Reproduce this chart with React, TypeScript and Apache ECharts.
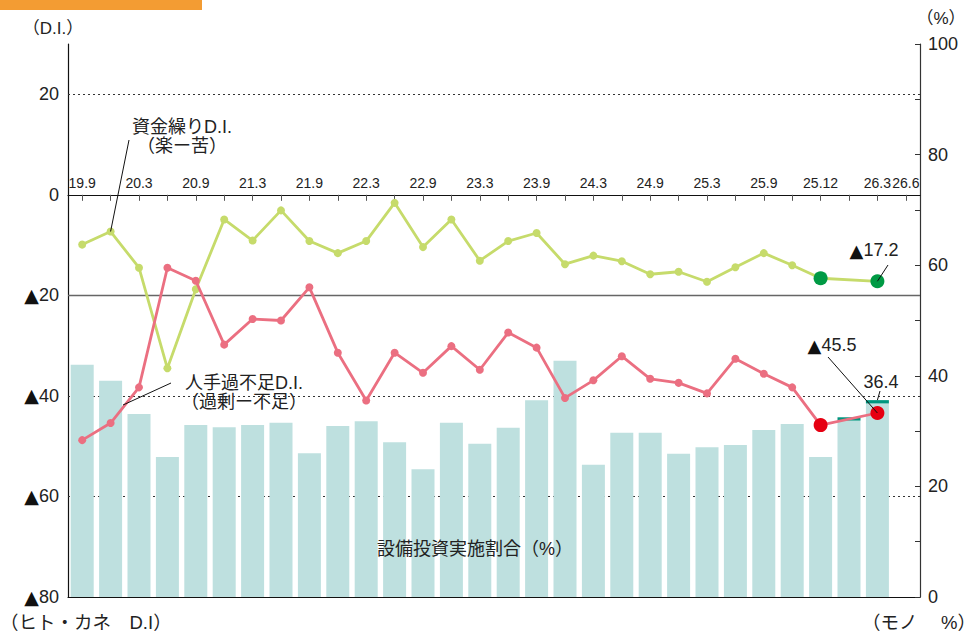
import React, { useEffect, useRef } from 'react';
import * as echarts from 'echarts';

// Category tick labels (one per survey point; blank = unlabeled)
const tickLabels = [
  '19.9', '', '20.3', '', '20.9', '', '21.3', '', '21.9', '',
  '22.3', '', '22.9', '', '23.3', '', '23.9', '', '24.3', '',
  '24.9', '', '25.3', '', '25.9', '', '25.12', '', '26.3', '26.6',
];

// 資金繰りD.I.（楽ー苦）
const fundingDI: (number | null)[] = [
  -9.9, -7.3, -14.5, -34.5, -18.8, -4.9, -9.1, -3.1, -9.2, -11.6,
  -9.2, -1.6, -10.4, -4.9, -13.1, -9.2, -7.6, -13.8, -12.1, -13.2,
  -15.8, -15.3, -17.3, -14.4, -11.6, -14.0, -16.6, null, -17.2, null,
];

// 人手過不足D.I.（過剰ー不足）
const laborDI: (number | null)[] = [
  -48.8, -45.4, -38.3, -14.5, -17.1, -29.8, -24.7, -25.0, -18.4, -31.4,
  -40.9, -31.4, -35.4, -30.1, -34.8, -27.4, -30.4, -40.4, -36.9, -32.1,
  -36.6, -37.4, -39.5, -32.6, -35.6, -38.3, -45.8, null, -43.4, null,
];

// 設備投資実施割合（%）
const capexBase: (number | null)[] = [
  42.0, 39.1, 33.1, 25.3, 31.1, 30.7, 31.1, 31.5, 26.0, 30.9,
  31.8, 28.0, 23.1, 31.5, 27.7, 30.6, 35.6, 42.7, 23.9, 29.7,
  29.7, 25.9, 27.1, 27.5, 30.2, 31.3, 25.3, 31.9, 35.0, null,
];
const capexCap: (number | null)[] = [
  null, null, null, null, null, null, null, null, null, null,
  null, null, null, null, null, null, null, null, null, null,
  null, null, null, null, null, null, null, 0.6, 0.6, null,
];

const highlightIdx = [26, 28];
const dottedGridValues = [20, -40, -60];
const solidGridValues = [-20];

const FONT = "'Liberation Sans', 'Noto Sans CJK JP', sans-serif";
const TRI = "'DejaVu Sans', sans-serif";
const TXT = '#222';

// grid geometry
const GL = 68;
const GR = 56;
const GT = 44;
const GB = 36;
const LEFT_MIN = -80;
const LEFT_MAX = 30;

export default function App() {
  const ref = useRef<HTMLDivElement>(null);

  useEffect(() => {
    const chart = echarts.init(ref.current!, null, { renderer: 'svg' });

    const withHighlight = (arr: (number | null)[], color: string) =>
      arr.map((v, i) =>
        v === null
          ? null
          : highlightIdx.includes(i)
          ? { value: v, symbolSize: 14, itemStyle: { color } }
          : v
      );

    const plotH = 633 - GT - GB;
    const zeroY = GT + (LEFT_MAX / (LEFT_MAX - LEFT_MIN)) * plotH;

    const option: any = {
      animation: false,
      grid: [
        { left: GL, right: GR, top: GT, bottom: GB },
        { left: GL, right: GR, top: zeroY, height: 20 },
      ],
      xAxis: [
        {
          type: 'category',
          gridIndex: 0,
          position: 'bottom',
          data: tickLabels,
          axisLine: { onZero: false, lineStyle: { color: '#111', width: 1.2 } },
          axisTick: { show: false },
          axisLabel: { show: false },
          splitLine: { show: false },
        },
        {
          type: 'category',
          gridIndex: 1,
          position: 'top',
          data: tickLabels,
          boundaryGap: true,
          axisLine: { onZero: false, lineStyle: { color: '#111', width: 1.2 } },
          axisTick: { show: true, inside: true, alignWithLabel: true, interval: 0, length: 6, lineStyle: { color: '#555' } },
          axisLabel: { interval: 0, margin: 5, fontSize: 14, color: TXT, fontFamily: FONT },
          splitLine: { show: false },
        },
      ],
      yAxis: [
        {
          type: 'value',
          gridIndex: 0,
          position: 'left',
          min: LEFT_MIN,
          max: LEFT_MAX,
          interval: 20,
          axisLine: { show: true, lineStyle: { color: '#111', width: 1.2 } },
          axisTick: { show: false },
          splitLine: { show: false },
          axisLabel: {
            formatter: (v: number) => (v === LEFT_MAX ? '' : v < 0 ? '{t|▲}' + -v : String(v)),
            fontSize: 18,
            color: TXT,
            margin: 9,
            fontFamily: FONT,
            rich: { t: { fontSize: 19, fontFamily: TRI, color: '#111', padding: [0, 0, 1, 0] } },
          },
        },
        {
          type: 'value',
          gridIndex: 0,
          position: 'right',
          min: 0,
          max: 100,
          interval: 10,
          axisLine: { show: true, lineStyle: { color: '#333', width: 1.2 } },
          axisTick: { show: true, inside: true, length: 5, lineStyle: { color: '#333' } },
          splitLine: { show: false },
          axisLabel: {
            formatter: (v: number) => (v % 20 === 0 ? String(v) : ''),
            fontSize: 18,
            color: TXT,
            margin: 8,
            fontFamily: FONT,
          },
        },
        {
          type: 'value',
          gridIndex: 1,
          show: false,
          min: 0,
          max: 1,
        },
      ],
      series: [
        {
          type: 'line',
          xAxisIndex: 0,
          yAxisIndex: 0,
          data: tickLabels.map(() => null),
          symbol: 'none',
          silent: true,
          markLine: {
            silent: true,
            symbol: 'none',
            z: 1,
            label: { show: false },
            data: [
              ...dottedGridValues.map((v) => ({
                yAxis: v,
                lineStyle: { type: [2, 3], color: '#333', width: 1 },
              })),
              ...solidGridValues.map((v) => ({
                yAxis: v,
                lineStyle: { type: 'solid', color: '#666', width: 1.3 },
              })),
            ],
          },
        },
        {
          type: 'bar',
          xAxisIndex: 0,
          yAxisIndex: 1,
          stack: 'capex',
          data: capexBase,
          barWidth: 23,
          itemStyle: { color: '#BEE0DF' },
          z: 2,
        },
        {
          type: 'bar',
          xAxisIndex: 0,
          yAxisIndex: 1,
          stack: 'capex',
          data: capexCap,
          barWidth: 23,
          itemStyle: { color: '#00967F' },
          z: 2,
        },
        {
          type: 'line',
          xAxisIndex: 0,
          yAxisIndex: 0,
          data: withHighlight(fundingDI, '#009A44'),
          connectNulls: true,
          symbol: 'circle',
          symbolSize: 8,
          showAllSymbol: true,
          lineStyle: { color: '#C6DB6B', width: 2.8 },
          itemStyle: { color: '#C6DB6B' },
          z: 4,
        },
        {
          type: 'line',
          xAxisIndex: 0,
          yAxisIndex: 0,
          data: withHighlight(laborDI, '#E60012'),
          connectNulls: true,
          symbol: 'circle',
          symbolSize: 8,
          showAllSymbol: true,
          lineStyle: { color: '#EB6F81', width: 2.8 },
          itemStyle: { color: '#EB6F81' },
          z: 5,
        },
      ],
    };

    chart.setOption(option);

    const pGreen1 = chart.convertToPixel({ seriesIndex: 3 }, [1, fundingDI[1] as number]) as number[];
    const pGreenLast = chart.convertToPixel({ seriesIndex: 3 }, [28, fundingDI[28] as number]) as number[];
    const pRedLast = chart.convertToPixel({ seriesIndex: 4 }, [28, laborDI[28] as number]) as number[];
    const pBarLast = chart.convertToPixel(
      { seriesIndex: 1 },
      [28, (capexBase[28] as number) + (capexCap[28] as number)]
    ) as number[];

    const lineStyle = { stroke: '#111', lineWidth: 1 };
    const txt = (x: number, y: number, text: string, size: number, align = 'center', extra: any = {}) => ({
      type: 'text',
      x,
      y,
      style: {
        text,
        fontSize: size,
        fontFamily: FONT,
        fill: TXT,
        textAlign: align,
        textVerticalAlign: 'middle',
        lineHeight: 19,
        ...extra,
      },
      z: 100,
    });
    const triRich = { rich: { t: { fontSize: 18, fontFamily: TRI, fill: '#111' } } };

    chart.setOption({
      graphic: [
        { type: 'rect', shape: { x: 0, y: 0, width: 202, height: 10 }, style: { fill: '#F39C33' }, z: 100 },
        txt(53, 28, '（D.I.）', 17),
        txt(941, 18, '（%）', 17),
        txt(0, 622, '（ヒト・カネ　D.I）', 18.5, 'left'),
        txt(976, 622, '（モノ　 %）', 18.5, 'right'),
        txt(182, 136, '資金繰りD.I.\n（楽ー苦）', 18),
        txt(244, 392, '人手過不足D.I.\n（過剰ー不足）', 18),
        txt(874, 250, '{t|▲}17.2', 18, 'center', triRich),
        txt(832, 345, '{t|▲}45.5', 18, 'center', triRich),
        txt(881, 382, '36.4', 18),
        txt(475, 549, '設備投資実施割合（%）', 18),
        { type: 'line', shape: { x1: 129, y1: 140, x2: pGreen1[0], y2: pGreen1[1] }, style: lineStyle, z: 100 },
        { type: 'line', shape: { x1: 171, y1: 383, x2: 123, y2: 405 }, style: lineStyle, z: 100 },
        { type: 'line', shape: { x1: 888, y1: 265, x2: pGreenLast[0], y2: pGreenLast[1] }, style: lineStyle, z: 100 },
        { type: 'line', shape: { x1: 828, y1: 357, x2: pRedLast[0], y2: pRedLast[1] }, style: lineStyle, z: 100 },
        { type: 'line', shape: { x1: 880, y1: 391, x2: pBarLast[0], y2: pBarLast[1] }, style: lineStyle, z: 100 },
      ],
    });

    return () => chart.dispose();
  }, []);

  return (
    <div
      ref={ref}
      style={{ position: 'absolute', left: 0, top: 0, width: 976, height: 633 }}
    />
  );
}
